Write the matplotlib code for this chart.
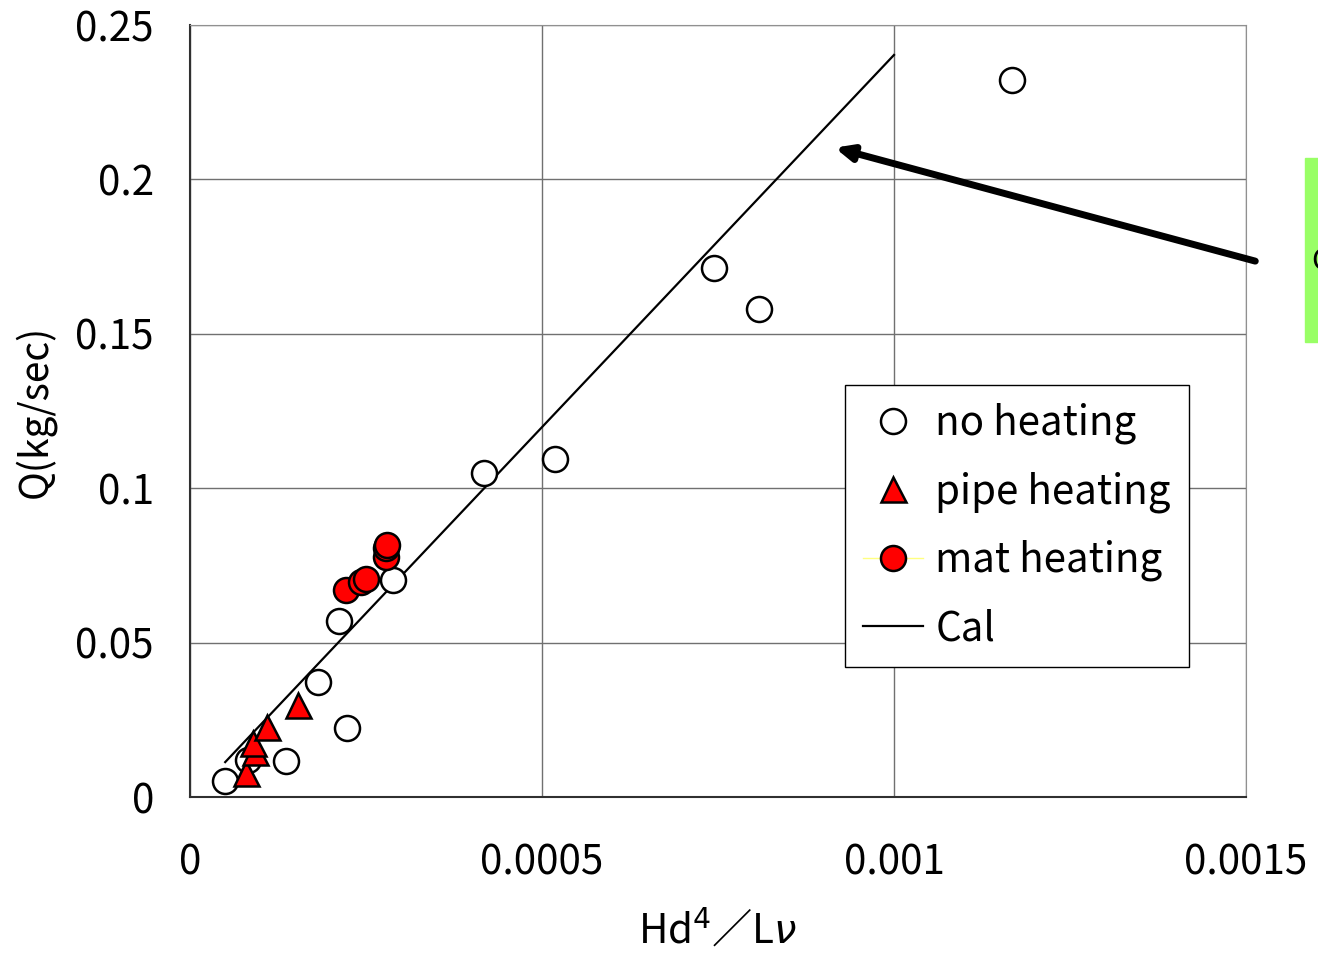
import matplotlib
matplotlib.use("Agg")
import matplotlib.pyplot as plt
from matplotlib.lines import Line2D
from matplotlib.patches import Rectangle

plt.rcParams['font.family'] = ['Noto Sans CJK JP', 'DejaVu Sans']
plt.rcParams['mathtext.fontset'] = 'dejavusans'

# no heating (open circles)
no_x = [0.001168, 0.000744, 0.000808, 0.000418, 0.000518, 0.000288, 0.000212,
        0.000182, 0.000223, 0.000136, 0.0000497, 0.0000824]
no_y = [0.2322, 0.1713, 0.158, 0.1049, 0.1095, 0.0703, 0.057,
        0.0372, 0.0223, 0.0117, 0.0052, 0.012]

# pipe heating (red triangles)
pipe_x = [0.0000795, 0.0000923, 0.0000895, 0.0001094, 0.0001534]
pipe_y = [0.0078, 0.0146, 0.0175, 0.0227, 0.0298]

# mat heating (red circles)
mat_x = [0.0002216, 0.000243, 0.000250, 0.0002784, 0.0002784, 0.00028]
mat_y = [0.067, 0.0696, 0.0706, 0.0777, 0.0806, 0.0816]

# calculated line
cal_x = [0.00005, 0.001]
cal_y = [0.0113, 0.2403]

x_ticks = [0, 0.0005, 0.001, 0.0015]
x_labels = ["0", "0.0005", "0.001", "0.0015"]
y_ticks = [0, 0.05, 0.1, 0.15, 0.2, 0.25]
y_labels = ["0", "0.05", "0.1", "0.15", "0.2", "0.25"]

fig = plt.figure(figsize=(13.18, 9.56), dpi=100)
ax = fig.add_axes([190/1318, 1 - 797/956, (1246-190)/1318, (797-25)/956])

ax.plot(cal_x, cal_y, color="black", lw=1.6, zorder=3)
ax.plot(no_x, no_y, "o", ms=18, mfc="white", mec="black", mew=1.8, zorder=4)
ax.plot(pipe_x, pipe_y, "^", ms=18, mfc="red", mec="black", mew=1.8, zorder=5)
ax.plot(mat_x, mat_y, "o", ms=18, mfc="red", mec="black", mew=1.8, zorder=6)

ax.set_xlim(0, 0.0015)
ax.set_ylim(0, 0.25)
ax.set_xticks(x_ticks)
ax.set_xticklabels(x_labels)
ax.set_yticks(y_ticks)
ax.set_yticklabels(y_labels)
ax.tick_params(axis="both", labelsize=29, length=0, pad=26)
ax.tick_params(axis="x", pad=33)
ax.grid(True, color="#707070", lw=1)
for s in ["top", "right"]:
    ax.spines[s].set_color("#909090")
for s in ["left", "bottom"]:
    ax.spines[s].set_color("#303030")
    ax.spines[s].set_linewidth(1.5)

ax.set_xlabel(r"Hd$^4$／L$\nu$", fontsize=29, labelpad=18)
ax.set_ylabel("Q(kg/sec)", fontsize=28, labelpad=14)

# arrow pointing at the Cal line
ax.annotate("", xy=(0.000912, 0.2105), xytext=(0.001517, 0.1733),
            arrowprops=dict(arrowstyle="-|>,head_length=1.0,head_width=0.45",
                            color="black", lw=5),
            annotation_clip=False, zorder=7)

# green note box cut off at the right edge
fig.patches.append(Rectangle((1305/1318, 1 - 342/956), 0.05, 184/956,
                             transform=fig.transFigure, color="#99ff66", zorder=0))
fig.text(1311/1318, 1 - 262/956, "C", fontsize=22, va="center", ha="left")

handles = [
    Line2D([], [], ls="none", marker="o", ms=18, mfc="white", mec="black", mew=1.8),
    Line2D([], [], ls="none", marker="^", ms=18, mfc="red", mec="black", mew=1.8),
    Line2D([], [], color="#ffff80", lw=1, marker="o", ms=18, mfc="red", mec="black", mew=1.8),
    Line2D([], [], color="black", lw=1.6),
]
leg = ax.legend(handles, ["no heating", "pipe heating", "mat heating", "Cal"],
                loc="upper left", bbox_to_anchor=(0.62, 0.534), fontsize=29,
                frameon=True, fancybox=False, framealpha=1, edgecolor="black",
                handlelength=1.5, handletextpad=0.3, borderpad=0.45, labelspacing=0.67,
                borderaxespad=0)
leg.get_frame().set_linewidth(1.0)

fig.savefig("out.png", dpi=100)
